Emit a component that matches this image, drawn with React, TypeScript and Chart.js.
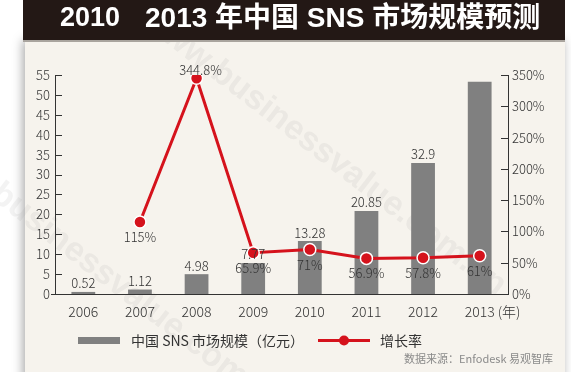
import React, { useEffect, useRef } from "react";
import { Chart, registerables } from "chart.js";

Chart.register(...registerables);

const years = ["2006", "2007", "2008", "2009", "2010", "2011", "2012", "2013"];
const marketSize = [0.52, 1.12, 4.98, 7.77, 13.28, 20.85, 32.9, 53.3];
const marketLabels = ["0.52", "1.12", "4.98", "7.77", "13.28", "20.85", "32.9", null];
const growthRate = [null, 115, 344.8, 65.9, 71, 56.9, 57.8, 61];
const growthLabels = [null, "115%", "344.8%", "65.9%", "71%", "56.9%", "57.8%", "61%"];

const titleLeft = "2010";
const titleRight = "2013 年中国 SNS 市场规模预测";
const sourceText = "数据来源：Enfodesk 易观智库";
const yearUnit = "(年)";
const watermark = "www.businessvalue.com.cn";

const FONT = '"Noto Sans CJK SC", "Noto Sans", sans-serif';
const TITLE_FONT = '"Liberation Sans", "Noto Sans CJK SC", sans-serif';
const RED = "#d5121c";
const GRAY = "#808080";
const TEXT = "#333333";

const decorPlugin = {
  id: "decor",
  beforeDraw(chart: any) {
    const ctx = chart.ctx;
    const W = chart.width;
    const H = chart.height;
    ctx.save();
    ctx.fillStyle = "#ffffff";
    ctx.fillRect(0, 0, W, H);
    // panel with shadow
    ctx.shadowColor = "rgba(0,0,0,0.35)";
    ctx.shadowBlur = 10;
    ctx.shadowOffsetX = -2;
    ctx.fillStyle = "#f6f3ed";
    ctx.fillRect(25, 40, 540, H - 40 + 10);
    ctx.shadowColor = "transparent";
    ctx.shadowBlur = 0;
    ctx.shadowOffsetX = 0;
    // watermark
    ctx.fillStyle = "rgba(150,150,150,0.11)";
    ctx.font = `bold 34px ${TITLE_FONT}`;
    ctx.textBaseline = "middle";
    ctx.textAlign = "left";
    ctx.save();
    ctx.translate(145, 15);
    ctx.rotate((37.5 * Math.PI) / 180);
    ctx.fillText(watermark, 0, 0);
    ctx.restore();
    ctx.save();
    ctx.translate(-5, 190);
    ctx.rotate((37.5 * Math.PI) / 180);
    ctx.fillText(watermark.slice(4), 0, 0);
    ctx.restore();
    // title bar
    ctx.fillStyle = "#231815";
    ctx.fillRect(23, 0, 542, 40);
    ctx.fillStyle = "#a9a49e";
    ctx.fillRect(23, 40, 542, 2);
    ctx.fillStyle = "#ffffff";
    ctx.textBaseline = "middle";
    ctx.textAlign = "left";
    ctx.font = `bold 27px ${TITLE_FONT}`;
    ctx.fillText(titleLeft, 60, 19);
    ctx.font = `bold 28px ${TITLE_FONT}`;
    ctx.fillText(titleRight, 145, 19);
    ctx.restore();
  },
  afterDraw(chart: any) {
    const ctx = chart.ctx;
    const area = chart.chartArea;
    const y = chart.scales.y;
    const y1 = chart.scales.y1;
    const x = chart.scales.x;
    ctx.save();
    // inward ticks
    ctx.strokeStyle = TEXT;
    ctx.lineWidth = 1;
    ctx.beginPath();
    y.ticks.forEach((t: any) => {
      const py = Math.round(y.getPixelForValue(t.value)) + 0.5;
      ctx.moveTo(area.left, py);
      ctx.lineTo(area.left + 7, py);
    });
    y1.ticks.forEach((t: any) => {
      const py = Math.round(y1.getPixelForValue(t.value)) + 0.5;
      ctx.moveTo(area.right, py);
      ctx.lineTo(area.right - 7, py);
    });
    ctx.moveTo(area.left - 4, area.bottom + 0.5);
    ctx.lineTo(area.left, area.bottom + 0.5);
    ctx.stroke();

    // bar labels
    ctx.fillStyle = TEXT;
    ctx.font = `300 13px ${FONT}`;
    ctx.textAlign = "center";
    ctx.textBaseline = "bottom";
    const barMeta = chart.getDatasetMeta(1);
    barMeta.data.forEach((bar: any, i: number) => {
      const lbl = marketLabels[i];
      if (lbl) ctx.fillText(lbl, bar.x, bar.y - 2);
    });
    // line labels
    const lineMeta = chart.getDatasetMeta(0);
    let maxIdx = 0;
    growthRate.forEach((v, i) => {
      if (v !== null && v > (growthRate[maxIdx] ?? -1)) maxIdx = i;
    });
    ctx.textBaseline = "middle";
    lineMeta.data.forEach((pt: any, i: number) => {
      const lbl = growthLabels[i];
      if (!lbl) return;
      if (i === maxIdx) ctx.fillText(lbl, pt.x + 4, pt.y - 8);
      else ctx.fillText(lbl, pt.x, pt.y + 15);
    });

    // (年) after last x label
    const lastIdx = years.length - 1;
    ctx.font = `300 14px ${FONT}`;
    const lx = x.getPixelForValue(lastIdx);
    const w = ctx.measureText(years[lastIdx]).width;
    ctx.textAlign = "left";
    ctx.fillText(yearUnit, lx + w / 2 + 3, area.bottom + 18);

    // legend
    const ds = chart.data.datasets;
    ctx.fillStyle = GRAY;
    ctx.fillRect(78, 337, 42, 7);
    ctx.fillStyle = TEXT;
    ctx.font = `14px ${FONT}`;
    ctx.textBaseline = "middle";
    ctx.fillText(ds[1].label, 131, 341);
    ctx.strokeStyle = RED;
    ctx.lineWidth = 3;
    ctx.beginPath();
    ctx.moveTo(318, 340.5);
    ctx.lineTo(370, 340.5);
    ctx.stroke();
    ctx.fillStyle = RED;
    ctx.beginPath();
    ctx.arc(344, 340.5, 5, 0, Math.PI * 2);
    ctx.fill();
    ctx.fillStyle = TEXT;
    ctx.fillText(ds[0].label, 380, 341);
    // source
    ctx.fillStyle = "#8a8a8a";
    ctx.font = `11px ${FONT}`;
    ctx.textAlign = "right";
    ctx.fillText(sourceText, 553, 359);
    ctx.restore();
  },
};

export default function App() {
  const ref = useRef<HTMLCanvasElement>(null);
  useEffect(() => {
    if (!ref.current) return;
    const tickFont = { family: FONT, size: 13, weight: "300" as any };
    const chart = new Chart(ref.current, {
      type: "bar",
      data: {
        labels: years,
        datasets: [
          {
            type: "line",
            label: "增长率",
            data: growthRate,
            yAxisID: "y1",
            borderColor: RED,
            borderWidth: 3,
            pointRadius: 6,
            pointBackgroundColor: RED,
            pointBorderColor: "#ffffff",
            pointBorderWidth: 1.5,
            order: 0,
          } as any,
          {
            type: "bar",
            label: "中国 SNS 市场规模（亿元）",
            data: marketSize,
            yAxisID: "y",
            backgroundColor: GRAY,
            barPercentage: 0.42,
            categoryPercentage: 1,
            order: 1,
          },
        ],
      },
      options: {
        responsive: false,
        animation: false,
        layout: { padding: { left: 25, right: 13, top: 75, bottom: 48 } },
        plugins: { legend: { display: false }, tooltip: { enabled: false }, title: { display: false } },
        scales: {
          x: {
            grid: { display: false, drawTicks: false },
            border: { display: true, color: TEXT },
            ticks: { color: TEXT, font: { family: FONT, size: 14, weight: "300" as any }, padding: 9, maxRotation: 0 },
            afterFit: (s: any) => { s.height = 30; },
          },
          y: {
            position: "left",
            min: 0,
            max: 55,
            grid: { display: false, drawTicks: false },
            border: { display: true, color: TEXT },
            ticks: { stepSize: 5, color: TEXT, font: tickFont, padding: 5 },
            afterFit: (s: any) => { s.width = 30; },
          },
          y1: {
            position: "right",
            min: 0,
            max: 350,
            grid: { display: false, drawTicks: false },
            border: { display: true, color: TEXT },
            ticks: { stepSize: 50, color: TEXT, font: tickFont, padding: 4, callback: (v: any) => v + "%" },
            afterFit: (s: any) => { s.width = 50; },
          },
        },
      },
      plugins: [decorPlugin],
    });
    return () => chart.destroy();
  }, []);
  return (
    <div style={{ position: "absolute", left: 0, top: 0 }}>
      <canvas ref={ref} width={571} height={372} />
    </div>
  );
}
